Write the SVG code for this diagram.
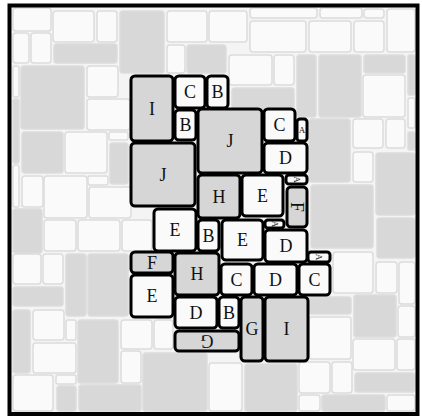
<svg xmlns="http://www.w3.org/2000/svg" width="422" height="417" viewBox="0 0 422 417">
<style>
.bw{fill:#f9faf9;stroke:#dcdcdc;stroke-width:1.5}
.bg{fill:#d8d8d8;stroke:#dcdcdc;stroke-width:1.5}
.fw{fill:#f9faf9;stroke:#000;stroke-width:3}
.fg{fill:#d6d6d6;stroke:#000;stroke-width:3}
text{font-family:"Liberation Serif","DejaVu Serif",serif;font-size:18px;fill:#111;text-anchor:middle;dominant-baseline:central}
text.s{font-size:9px}
</style>
<rect x="0" y="0" width="422" height="417" fill="#ffffff"/>
<rect x="9.5" y="5.5" width="408" height="408.5" fill="#f4f4f4"/>
<g id="background">
<rect class="bw" x="13" y="8" width="38" height="23" rx="3"/>
<rect class="bw" x="53" y="11" width="41" height="31" rx="3"/>
<rect class="bw" x="97" y="11" width="20" height="31" rx="3"/>
<rect class="bg" x="120" y="11" width="44" height="62" rx="3"/>
<rect class="bw" x="167" y="11" width="40" height="31" rx="3"/>
<rect class="bw" x="209" y="11" width="38" height="31" rx="3"/>
<rect class="bw" x="250" y="8" width="67" height="10" rx="3"/>
<rect class="bw" x="320" y="8" width="42" height="10" rx="3"/>
<rect class="bw" x="364" y="9" width="20" height="9" rx="3"/>
<rect class="bw" x="387" y="9" width="28" height="43" rx="3"/>
<rect class="bw" x="250" y="21" width="56" height="31" rx="3"/>
<rect class="bw" x="309" y="21" width="42" height="31" rx="3"/>
<rect class="bw" x="354" y="21" width="30" height="31" rx="3"/>
<rect class="bw" x="167" y="45" width="18" height="28" rx="3"/>
<rect class="bg" x="187" y="45" width="39" height="28" rx="3"/>
<rect class="bw" x="229" y="55" width="43" height="30" rx="3"/>
<rect class="bw" x="274" y="55" width="20" height="30" rx="3"/>
<rect class="bg" x="232" y="88" width="62" height="22" rx="3"/>
<rect class="bg" x="297" y="55" width="19" height="62" rx="3"/>
<rect class="bg" x="319" y="55" width="42" height="62" rx="3"/>
<rect class="bg" x="364" y="55" width="41" height="18" rx="3"/>
<rect class="bg" x="408" y="55" width="7" height="40" rx="2"/>
<rect class="bw" x="363" y="75" width="42" height="42" rx="3"/>
<rect class="bw" x="408" y="98" width="7" height="30" rx="2"/>
<rect class="bg" x="309" y="119" width="41" height="63" rx="3"/>
<rect class="bw" x="353" y="119" width="30" height="29" rx="3"/>
<rect class="bw" x="386" y="119" width="19" height="29" rx="3"/>
<rect class="bg" x="408" y="132" width="7" height="18" rx="2"/>
<rect class="bw" x="353" y="152" width="20" height="30" rx="3"/>
<rect class="bg" x="376" y="153" width="39" height="62" rx="3"/>
<rect class="bg" x="311" y="185" width="62" height="63" rx="3"/>
<rect class="bg" x="377" y="218" width="38" height="40" rx="3"/>
<rect class="bw" x="333" y="252" width="40" height="41" rx="3"/>
<rect class="bw" x="376" y="262" width="21" height="31" rx="3"/>
<rect class="bw" x="399" y="262" width="16" height="42" rx="3"/>
<rect class="bg" x="309" y="297" width="42" height="17" rx="3"/>
<rect class="bg" x="354" y="295" width="42" height="42" rx="3"/>
<rect class="bw" x="398" y="306" width="17" height="31" rx="3"/>
<rect class="bw" x="309" y="317" width="42" height="42" rx="3"/>
<rect class="bw" x="353" y="339" width="42" height="31" rx="3"/>
<rect class="bw" x="397" y="339" width="18" height="31" rx="3"/>
<rect class="bg" x="245" y="364" width="52" height="47" rx="3"/>
<rect class="bw" x="299" y="362" width="31" height="31" rx="3"/>
<rect class="bw" x="332" y="362" width="20" height="31" rx="3"/>
<rect class="bg" x="355" y="373" width="60" height="19" rx="3"/>
<rect class="bw" x="299" y="395" width="21" height="16" rx="3"/>
<rect class="bg" x="322" y="395" width="63" height="16" rx="3"/>
<rect class="bw" x="387" y="395" width="28" height="16" rx="3"/>
<rect class="bw" x="13" y="33" width="16" height="30" rx="3"/>
<rect class="bw" x="31" y="33" width="20" height="30" rx="3"/>
<rect class="bg" x="54" y="44" width="63" height="19" rx="3"/>
<rect class="bw" x="13" y="66" width="6" height="31" rx="2"/>
<rect class="bg" x="21" y="66" width="63" height="63" rx="3"/>
<rect class="bw" x="87" y="66" width="31" height="31" rx="3"/>
<rect class="bw" x="87" y="99" width="43" height="31" rx="3"/>
<rect class="bg" x="13" y="99" width="6" height="64" rx="2"/>
<rect class="bg" x="22" y="132" width="41" height="41" rx="3"/>
<rect class="bw" x="65" y="132" width="42" height="41" rx="3"/>
<rect class="bw" x="109" y="132" width="19" height="8" rx="2"/>
<rect class="bg" x="110" y="143" width="18" height="41" rx="3"/>
<rect class="bw" x="13" y="165" width="6" height="42" rx="2"/>
<rect class="bw" x="22" y="176" width="21" height="31" rx="3"/>
<rect class="bw" x="44" y="176" width="43" height="42" rx="3"/>
<rect class="bw" x="88" y="176" width="20" height="9" rx="2"/>
<rect class="bw" x="89" y="187" width="42" height="31" rx="3"/>
<rect class="bg" x="13" y="209" width="29" height="44" rx="3"/>
<rect class="bw" x="44" y="220" width="32" height="31" rx="3"/>
<rect class="bw" x="78" y="220" width="42" height="31" rx="3"/>
<rect class="bw" x="122" y="220" width="30" height="31" rx="3"/>
<rect class="bw" x="13" y="254" width="28" height="30" rx="3"/>
<rect class="bw" x="43" y="254" width="20" height="30" rx="3"/>
<rect class="bg" x="66" y="254" width="20" height="62" rx="3"/>
<rect class="bg" x="88" y="254" width="40" height="62" rx="3"/>
<rect class="bg" x="13" y="287" width="50" height="19" rx="3"/>
<rect class="bg" x="13" y="310" width="17" height="63" rx="3"/>
<rect class="bw" x="33" y="310" width="31" height="30" rx="3"/>
<rect class="bw" x="66" y="320" width="10" height="20" rx="2"/>
<rect class="bg" x="78" y="320" width="40" height="63" rx="3"/>
<rect class="bw" x="121" y="320" width="31" height="29" rx="3"/>
<rect class="bw" x="154" y="320" width="19" height="29" rx="3"/>
<rect class="bw" x="33" y="343" width="43" height="30" rx="3"/>
<rect class="bw" x="121" y="351" width="20" height="32" rx="3"/>
<rect class="bg" x="143" y="353" width="64" height="58" rx="3"/>
<rect class="bw" x="209" y="363" width="33" height="48" rx="3"/>
<rect class="bw" x="13" y="375" width="40" height="36" rx="3"/>
<rect class="bw" x="56" y="375" width="20" height="9" rx="2"/>
<rect class="bg" x="57" y="386" width="19" height="25" rx="3"/>
<rect class="bg" x="79" y="385" width="62" height="26" rx="3"/>
</g>
<rect x="9.5" y="5.5" width="408" height="408.5" fill="none" stroke="#000" stroke-width="4"/>
<g id="connectors"></g>
<g id="t1"><rect class="fg" x="131" y="76" width="42" height="65" rx="4"/><text x="152" y="108.5">I</text></g>
<g id="t2"><rect class="fw" x="175" y="76" width="30" height="32" rx="4"/><text x="190" y="92">C</text></g>
<g id="t3"><rect class="fw" x="207" y="76" width="21" height="32" rx="4"/><text x="217.5" y="92">B</text></g>
<g id="t4"><rect class="fw" x="175" y="110" width="21" height="30" rx="4"/><text x="185.5" y="125">B</text></g>
<g id="t5"><rect class="fg" x="198" y="109" width="64" height="64" rx="4"/><text x="230" y="141">J</text></g>
<g id="t6"><rect class="fw" x="264" y="109" width="31" height="32" rx="4"/><text x="279.5" y="125">C</text></g>
<g id="t7"><rect class="fw" x="297" y="119" width="10" height="22" rx="3"/><text class="s" x="302" y="130">A</text></g>
<g id="t8"><rect class="fw" x="264" y="143" width="43" height="30" rx="4"/><text x="285.5" y="158">D</text></g>
<g id="t9"><rect class="fg" x="131" y="143" width="64" height="63" rx="4"/><text x="163" y="174.5">J</text></g>
<g id="t10"><rect class="fg" x="198" y="175" width="42" height="43" rx="4"/><text x="219" y="196.5">H</text></g>
<g id="t11"><rect class="fw" x="242" y="175" width="41" height="41" rx="4"/><text x="262.5" y="195.5">E</text></g>
<g id="t12"><rect class="fw" x="286" y="175" width="21" height="9" rx="3"/><text class="s" transform="translate(296.5 179.5) rotate(90)">A</text></g>
<g id="t13"><rect class="fg" x="287" y="187" width="20" height="40" rx="4"/><text transform="translate(297 207) rotate(90)">F</text></g>
<g id="t14"><rect class="fw" x="154" y="209" width="42" height="42" rx="4"/><text x="175" y="230">E</text></g>
<g id="t15"><rect class="fw" x="198" y="220" width="21" height="31" rx="4"/><text x="208.5" y="235.5">B</text></g>
<g id="t16"><rect class="fw" x="222" y="220" width="41" height="40" rx="4"/><text x="242.5" y="240">E</text></g>
<g id="t17"><rect class="fw" x="265" y="220" width="19" height="8" rx="3"/><text class="s" transform="translate(274.5 224) rotate(90)">A</text></g>
<g id="t18"><rect class="fw" x="265" y="230" width="42" height="32" rx="4"/><text x="286" y="246">D</text></g>
<g id="t19"><rect class="fg" x="131" y="252" width="42" height="21" rx="4"/><text x="152" y="262.5">F</text></g>
<g id="t20"><rect class="fw" x="131" y="275" width="42" height="42" rx="4"/><text x="152" y="296">E</text></g>
<g id="t21"><rect class="fg" x="175" y="253" width="44" height="42" rx="4"/><text x="197" y="274">H</text></g>
<g id="t22"><rect class="fw" x="308" y="252" width="22" height="10" rx="3"/><text class="s" transform="translate(319 257) rotate(90)">A</text></g>
<g id="t23"><rect class="fw" x="221" y="264" width="31" height="31" rx="4"/><text x="236.5" y="279.5">C</text></g>
<g id="t24"><rect class="fw" x="254" y="264" width="43" height="31" rx="4"/><text x="275.5" y="279.5">D</text></g>
<g id="t25"><rect class="fw" x="299" y="264" width="31" height="31" rx="4"/><text x="314.5" y="279.5">C</text></g>
<g id="t26"><rect class="fw" x="175" y="297" width="42" height="31" rx="4"/><text x="196" y="312.5">D</text></g>
<g id="t27"><rect class="fw" x="219" y="297" width="20" height="31" rx="4"/><text x="229" y="312.5">B</text></g>
<g id="t28"><rect class="fg" x="175" y="331" width="64" height="20" rx="4"/><text transform="translate(207 341) rotate(180)">G</text></g>
<g id="t29"><rect class="fg" x="241" y="297" width="22" height="64" rx="4"/><text x="252" y="329">G</text></g>
<g id="t30"><rect class="fg" x="265" y="297" width="43" height="64" rx="4"/><text x="286.5" y="329">I</text></g>
</svg>
